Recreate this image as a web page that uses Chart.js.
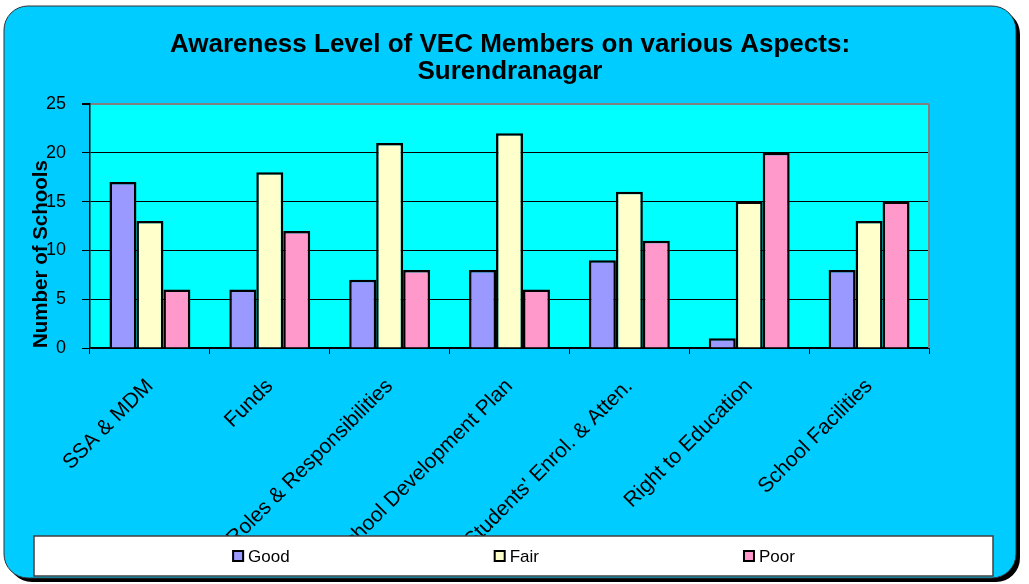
<!DOCTYPE html>
<html>
<head>
<meta charset="utf-8">
<script src="https://cdn.jsdelivr.net/npm/chart.js@4.4.1/dist/chart.umd.min.js"></script>
<style>
html,body{margin:0;padding:0;background:#fff;}
</style>
</head>
<body>
<canvas id="mychart" width="1029" height="584"></canvas>
<script>
const categories = ["SSA & MDM", "Funds", "Roles & Responsibilities", "School Development Plan", "Students' Enrol. & Atten.", "Right to Education", "School Facilities"];
const good = [17, 6, 7, 8, 9, 1, 8];
const fair = [13, 18, 21, 22, 16, 15, 13];
const poor = [6, 12, 8, 6, 11, 20, 15];
const yMin = 0, yMax = 25, yStep = 5;
const titleLines = ["Awareness Level of VEC Members on various Aspects:", "Surendranagar"];
const yTitle = "Number of Schools";

function roundRect(ctx, x, y, w, h, r) {
    ctx.beginPath();
    ctx.moveTo(x + r, y);
    ctx.arcTo(x + w, y, x + w, y + h, r);
    ctx.arcTo(x + w, y + h, x, y + h, r);
    ctx.arcTo(x, y + h, x, y, r);
    ctx.arcTo(x, y, x + w, y, r);
    ctx.closePath();
}

// rounded cyan frame + plot background
const framePlugin = {
    id: "frame",
    afterLayout(chart) {
        // centre the title over the whole frame, not just the plot
        if (chart.titleBlock) {
            chart.titleBlock.left = 4;
            chart.titleBlock.right = 1016;
            chart.titleBlock.width = 1012;
        }
    },
    beforeDraw(chart) {
        const ctx = chart.ctx, a = chart.chartArea;
        ctx.save();
        ctx.fillStyle = "#fff";
        ctx.fillRect(0, 0, chart.width, chart.height);
        roundRect(ctx, 8, 10, 1012, 572, 24);
        ctx.fillStyle = "#000";
        ctx.fill();
        roundRect(ctx, 4, 6, 1012, 572, 24);
        ctx.fillStyle = "#00CCFF";
        ctx.fill();
        ctx.lineWidth = 1;
        ctx.strokeStyle = "#333";
        ctx.stroke();
        ctx.fillStyle = "#00FFFF";
        ctx.fillRect(a.left, a.top, a.right - a.left, a.bottom - a.top);
        ctx.restore();
    },
    afterDraw(chart) {
        const ctx = chart.ctx, a = chart.chartArea;
        ctx.save();
        // grey right border of plot
        ctx.strokeStyle = "#808080";
        ctx.lineWidth = 2;
        ctx.beginPath();
        ctx.moveTo(a.right, a.top);
        ctx.lineTo(a.right, a.bottom);
        ctx.stroke();

        // legend box
        const lx = 34, ly = 536, lw = 959, lh = 40;
        ctx.fillStyle = "#fff";
        ctx.fillRect(lx, ly, lw, lh);
        ctx.strokeStyle = "#404040";
        ctx.lineWidth = 1.5;
        ctx.strokeRect(lx, ly, lw, lh);

        ctx.font = "17px Arial";
        ctx.textBaseline = "middle";
        const box = 12, gap = 204;
        const items = chart.data.datasets.map(d => ({
            label: d.label,
            color: d.backgroundColor,
            w: box + 4 + ctx.measureText(d.label).width
        }));
        let total = gap * (items.length - 1);
        items.forEach(it => total += it.w);
        let x = lx + (lw - total) / 2;
        const cy = ly + lh / 2;
        items.forEach(it => {
            ctx.fillStyle = it.color;
            ctx.fillRect(x, cy - box / 2, box, box);
            ctx.strokeStyle = "#000";
            ctx.lineWidth = 2;
            ctx.strokeRect(x + 1, cy - box / 2 + 1, box - 2, box - 2);
            ctx.fillStyle = "#000";
            ctx.fillText(it.label, x + box + 4, cy + 1);
            x += it.w + gap;
        });
        ctx.restore();
    }
};

new Chart("mychart", {
    type: "bar",
    data: {
        labels: categories,
        datasets: [
            { label: "Good", data: good, backgroundColor: "#9999FF", borderColor: "#000", borderWidth: 2.5 },
            { label: "Fair", data: fair, backgroundColor: "#FFFFCC", borderColor: "#000", borderWidth: 2.5 },
            { label: "Poor", data: poor, backgroundColor: "#FF99CC", borderColor: "#000", borderWidth: 2.5 }
        ]
    },
    options: {
        responsive: false,
        animation: false,
        layout: { padding: { left: 27, right: 100, top: 0, bottom: 48 } },
        datasets: { bar: { categoryPercentage: 0.675, barPercentage: 1 } },
        plugins: {
            legend: { display: false },
            tooltip: { enabled: false },
            title: {
                display: true,
                text: titleLines,
                color: "#000",
                font: { family: "Arial", size: 26, weight: "bold", lineHeight: "27px" },
                padding: { top: 31.5, bottom: 18.5 }
            }
        },
        scales: {
            x: {
                grid: { display: true, drawOnChartArea: false, drawTicks: true, tickLength: 6, tickColor: "#000", offset: true },
                border: { color: "#000", width: 1.5 },
                ticks: {
                    color: "#000",
                    font: { family: "Arial", size: 21 },
                    minRotation: 45,
                    maxRotation: 45,
                    autoSkip: false,
                    padding: 20
                },
                afterFit(scale) { scale.height = 188; }
            },
            y: {
                min: yMin,
                max: yMax,
                ticks: { stepSize: yStep, color: "#000", font: { family: "Arial", size: 18 }, padding: 16 },
                grid: {
                    color: ctx => ctx.tick && ctx.tick.value === yMax ? "#808080" : "#000",
                    lineWidth: ctx => ctx.tick && ctx.tick.value === yMax ? 2 : 1,
                    tickLength: 8,
                    tickColor: "#000"
                },
                border: { color: "#000", width: 1.5 },
                title: {
                    display: true,
                    text: yTitle,
                    align: "start",
                    color: "#000",
                    font: { family: "Arial", size: 20.5, weight: "bold" },
                    padding: { top: 2, bottom: 0 }
                },
                afterFit(scale) { scale.width = 63; }
            }
        }
    },
    plugins: [framePlugin]
});
</script>
</body>
</html>
